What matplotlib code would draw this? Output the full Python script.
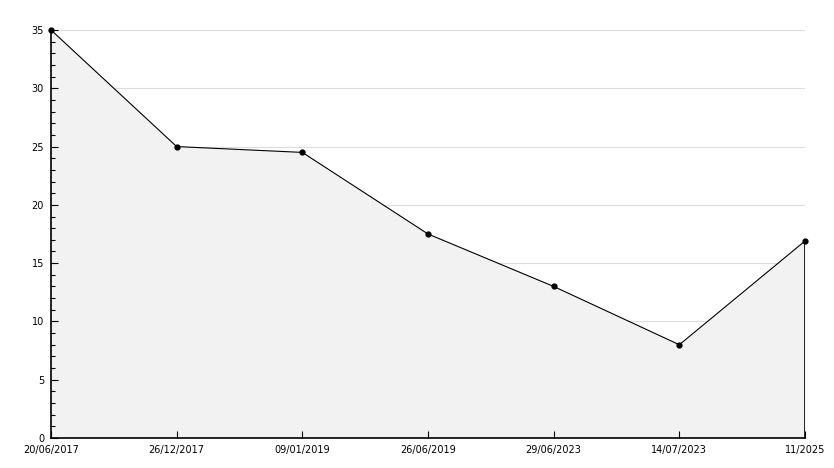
import matplotlib.pyplot as plt
from matplotlib.ticker import MultipleLocator

# dates shown on the x axis (evenly spaced categories)
dates = ['20/06/2017', '26/12/2017', '09/01/2019', '26/06/2019',
         '29/06/2023', '14/07/2023', '11/2025']
values = [35, 25, 24.5, 17.5, 13, 8, 16.9]
y_ticks = [0, 5, 10, 15, 20, 25, 30, 35]

x = list(range(len(dates)))

fig = plt.figure(figsize=(8.34, 4.68), dpi=100)
ax = fig.add_axes([51 / 834, 30 / 468, 754 / 834, 408 / 468])

# gridlines sit under the filled area
ax.hlines(y_ticks[1:], x[0], x[-1], color='#dddddd', linewidth=0.8, zorder=0)
ax.fill_between(x, values, 0, color='#f2f2f2', linewidth=0, zorder=1)
ax.plot(x, values, color='black', linewidth=0.8, marker='o', markersize=3.5,
        zorder=4, clip_on=False)
ax.vlines(x[-1], 0, values[-1], color='black', linewidth=1.2, zorder=3)

ax.set_xlim(x[0], x[-1])
ax.set_ylim(0, 35)
ax.set_xticks(x)
ax.set_xticklabels(dates)
ax.set_yticks(y_ticks)
ax.yaxis.set_minor_locator(MultipleLocator(1))
ax.set_axisbelow(False)

for side in ['top', 'right']:
    ax.spines[side].set_visible(False)
for side in ['left', 'bottom']:
    ax.spines[side].set_linewidth(1.2)

ax.tick_params(axis='x', direction='in', length=5, width=0.8, labelsize=7, pad=5)
ax.tick_params(axis='y', which='major', direction='in', length=5, width=0.8,
               labelsize=7, pad=5)
ax.tick_params(axis='y', which='minor', direction='in', length=3, width=0.8)

fig.savefig('out.png', dpi=100)
